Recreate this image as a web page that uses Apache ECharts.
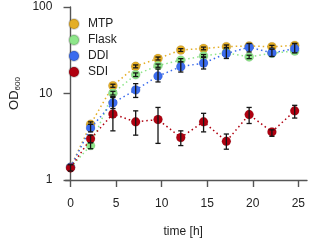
<!DOCTYPE html>
<html><head><meta charset="utf-8">
<script src="https://cdn.jsdelivr.net/npm/echarts@6/dist/echarts.min.js"></script>
<style>html,body{margin:0;padding:0;background:#fff}#c{width:309px;height:243px}</style>
</head><body><div id="c"></div>
<script>
const time = [0, 2.2, 4.65, 7.15, 9.6, 12.1, 14.6, 17.1, 19.6, 22.1, 24.6];
const xTicks = [0, 5, 10, 15, 20, 25];
const yTicks = [1, 10, 100];
const names = ['MTP', 'Flask', 'DDI', 'SDI'];
const mtp   = [1.4, 4.4, 12.3, 20.6, 25.4, 31.8, 33.2, 34.8, 35.5, 34.7, 36.0];
const flask = [1.4, 2.5, 10.1, 16.5, 21.0, 24.3, 27.2, 29.5, 26.5, 29.2, 31.0];
const ddi   = [1.4, 4.0, 7.8, 11.0, 15.9, 20.4, 22.5, 29.0, 34.3, 29.5, 33.0];
const sdi   = [1.38, 3.0, 5.8, 4.7, 5.0, 3.1, 4.7, 2.8, 5.7, 3.6, 6.3];
const mtpLo   = [1.32, 4.1, 11.8, 19.8, 24.4, 30.6, 32.0, 33.2, 34.0, 33.4, 34.5];
const mtpHi   = [1.48, 4.7, 12.8, 21.4, 26.4, 33.0, 34.4, 36.4, 37.0, 36.0, 37.5];
const flaskLo = [1.32, 2.3, 9.6, 15.7, 20.1, 23.3, 26.2, 28.3, 25.3, 28.0, 29.8];
const flaskHi = [1.48, 2.7, 10.6, 17.3, 21.9, 25.3, 28.2, 30.7, 27.7, 30.4, 32.2];
const ddiLo   = [1.32, 3.6, 6.7, 9.0, 13.6, 17.7, 19.2, 25.4, 30.2, 26.8, 29.5];
const ddiHi   = [1.48, 4.4, 9.0, 13.0, 19.2, 23.2, 26.5, 34.0, 37.8, 32.5, 38.0];
const sdiLo   = [1.27, 2.7, 3.7, 3.3, 2.65, 2.5, 3.6, 2.27, 4.5, 3.2, 5.2];
const sdiHi   = [1.5, 3.3, 9.2, 6.3, 6.9, 3.7, 5.9, 3.4, 6.9, 3.8, 7.3];

const colors = ['#E4AE26', '#8EE68A', '#3A6BEE', '#B00010'];
const vals = [mtp, flask, ddi, sdi];
const los = [mtpLo, flaskLo, ddiLo, sdiLo];
const his = [mtpHi, flaskHi, ddiHi, sdiHi];

function errItem(params, api) {
  const x = api.value(0), lo = api.value(1), hi = api.value(2);
  const p1 = api.coord([x, lo]), p2 = api.coord([x, hi]);
  const w = 2.6, st = {stroke: '#151515', lineWidth: 1.3};
  return {type: 'group', children: [
    {type: 'line', shape: {x1: p1[0], y1: p1[1], x2: p2[0], y2: p2[1]}, style: st},
    {type: 'line', shape: {x1: p1[0]-w, y1: p1[1], x2: p1[0]+w, y2: p1[1]}, style: st},
    {type: 'line', shape: {x1: p2[0]-w, y1: p2[1], x2: p2[0]+w, y2: p2[1]}, style: st}
  ]};
}

const series = [];
names.forEach((n, i) => {
  series.push({
    name: n, type: 'line', data: time.map((t, j) => [t, vals[i][j]]),
    symbol: 'circle', symbolSize: 9, showSymbol: true,
    itemStyle: {color: colors[i], borderColor: 'rgba(0,0,0,0.15)', borderWidth: 0.6},
    lineStyle: {color: colors[i], width: 1.5, type: [1.5, 3]},
    z: 2 + i * 2
  });
  series.push({
    type: 'custom', renderItem: errItem,
    data: time.map((t, j) => [t, los[i][j], his[i][j]]),
    encode: {x: 0, y: [1, 2]}, z: 3 + i * 2, silent: true
  });
});

const chart = echarts.init(document.getElementById('c'), null, {renderer: 'canvas'});
chart.setOption({
  animation: false,
  textStyle: {fontFamily: 'Liberation Sans, Arial, sans-serif'},
  grid: {left: 57, right: 2, top: 7, bottom: 59, containLabel: false},
  legend: {
    data: names.map((n, i) => ({name: n, icon: 'circle', itemStyle: {color: colors[i]}})),
    orient: 'vertical', left: 63, top: 13, itemWidth: 10, itemHeight: 10, itemGap: 4,
    textStyle: {fontSize: 12, color: '#222', padding: [0, 0, 0, 4]}
  },
  xAxis: {
    type: 'value', min: -0.56, max: 25.95,
    name: 'time [h]', nameLocation: 'middle', nameGap: 46,
    nameTextStyle: {fontSize: 12, color: '#222', padding: [0, 6, 0, 0]},
    axisLine: {onZero: false, lineStyle: {color: '#555', width: 1.4}},
    axisTick: {customValues: xTicks, length: 7, lineStyle: {color: '#555', width: 1.4}},
    axisLabel: {customValues: xTicks, margin: 18, fontSize: 12, color: '#222'},
    splitLine: {show: false}
  },
  yAxis: {
    type: 'log', logBase: 10, min: 1, max: 100,
    name: '{a|OD}{b|600}', nameLocation: 'middle', nameGap: 36,
    nameTextStyle: {rich: {a: {fontSize: 13, color: '#222'}, b: {fontSize: 8, color: '#222', verticalAlign: 'bottom', padding: [6, 0, 0, 0]}}},
    axisLine: {show: true, lineStyle: {color: '#555', width: 1.4}},
    axisTick: {length: 7, lineStyle: {color: '#555', width: 1.4}},
    axisLabel: {margin: 13, fontSize: 12, color: '#222'},
    splitLine: {show: false}
  },
  series: series
});
</script></body></html>
